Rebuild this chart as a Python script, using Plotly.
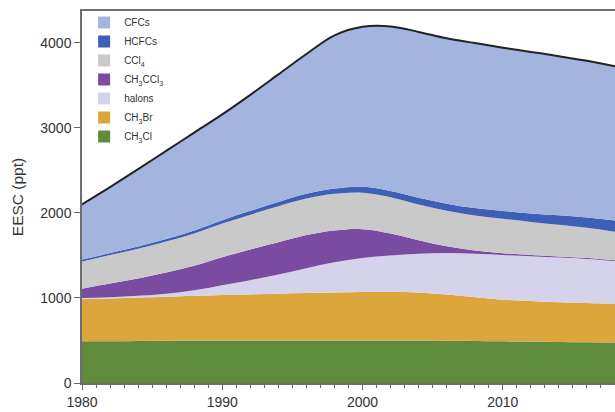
import plotly.graph_objects as go

years = [1980, 1982, 1984, 1986, 1988, 1990, 1992, 1994, 1996, 1998,
         2000, 2002, 2004, 2006, 2008, 2010, 2012, 2014, 2016, 2018]

ch3cl   = [490, 492, 495, 497, 500, 500, 500, 500, 500, 500,
           500, 500, 500, 498, 495, 490, 487, 483, 480, 477]
ch3br   = [495, 503, 510, 518, 525, 535, 542, 550, 558, 565,
           570, 570, 565, 542, 515, 490, 478, 467, 460, 453]
halons  = [15, 15, 20, 35, 65, 115, 168, 225, 292, 355,
           400, 430, 455, 490, 510, 525, 525, 525, 520, 505]
ch3ccl3 = [110, 160, 205, 250, 290, 330, 360, 380, 390, 375,
           340, 260, 160, 80, 40, 22, 15, 12, 10, 8]
ccl4    = [320, 335, 350, 365, 380, 395, 410, 425, 430, 430,
           428, 425, 420, 415, 410, 405, 390, 375, 355, 335]
hcfcs   = [22, 24, 27, 30, 34, 40, 45, 50, 55, 62,
           70, 75, 80, 85, 88, 92, 100, 110, 122, 135]
cfcs    = [648, 776, 908, 1035, 1151, 1245, 1365, 1500, 1645, 1803,
           1882, 1935, 1950, 1945, 1942, 1921, 1900, 1873, 1843, 1812]

# bottom -> top
series = [
    ("CH<sub>3</sub>Cl", ch3cl, "#5f8b3d"),
    ("CH<sub>3</sub>Br", ch3br, "#dca63c"),
    ("halons", halons, "#d5d3eb"),
    ("CH<sub>3</sub>CCl<sub>3</sub>", ch3ccl3, "#7a4ca1"),
    ("CCl<sub>4</sub>", ccl4, "#c9c9c9"),
    ("HCFCs", hcfcs, "#3f5fb7"),
    ("CFCs", cfcs, "#a3b5de"),
]

fig = go.Figure()
for name, vals, col in series:
    is_top = name == "CFCs"
    fig.add_trace(go.Scatter(
        x=years, y=vals, name=name, stackgroup="one", mode="lines",
        line=dict(color="#222222" if is_top else col, width=2 if is_top else 0,
                  shape="spline", smoothing=1.0),
        fillcolor=col, showlegend=False, hoverinfo="skip"))

# legend entries (top -> bottom)
for name, vals, col in reversed(series):
    fig.add_trace(go.Scatter(
        x=[None], y=[None], name=name, mode="markers",
        marker=dict(symbol="square", size=10, color=col),
        showlegend=True))

fig.update_layout(
    width=615, height=412,
    margin=dict(l=82, r=0, t=11, b=29),
    paper_bgcolor="white", plot_bgcolor="white",
    font=dict(family="Liberation Sans, Arial, sans-serif", color="#333333", size=14),
    showlegend=True,
    legend=dict(x=0.004, y=1.008, xanchor="left", yanchor="top",
                bgcolor="rgba(0,0,0,0)", font=dict(size=10, color="#333333"),
                traceorder="normal", itemsizing="constant"),
    xaxis=dict(range=[1980, 2018], tickvals=[1980, 1990, 2000, 2010],
               ticks="outside", ticklen=5, tickwidth=1.2, tickcolor="#666666",
               minor=dict(dtick=1, ticks="outside", ticklen=3, tickcolor="#666666", tickwidth=1),
               showline=True, linecolor="#6e6e6e", linewidth=1.5, mirror=True,
               showgrid=False, zeroline=False, tickfont=dict(size=14)),
    yaxis=dict(range=[0, 4376], tickvals=[0, 1000, 2000, 3000, 4000],
               ticks="outside", ticklen=6, tickwidth=1.2, tickcolor="#666666",
               showline=True, linecolor="#6e6e6e", linewidth=1.5,
               showgrid=False, zeroline=False, tickfont=dict(size=14),
               title=dict(text="EESC (ppt)", font=dict(size=15.5), standoff=13)),
)

fig.write_html("out.html", config={"displayModeBar": False},
               post_script="document.body.style.margin='0';")
